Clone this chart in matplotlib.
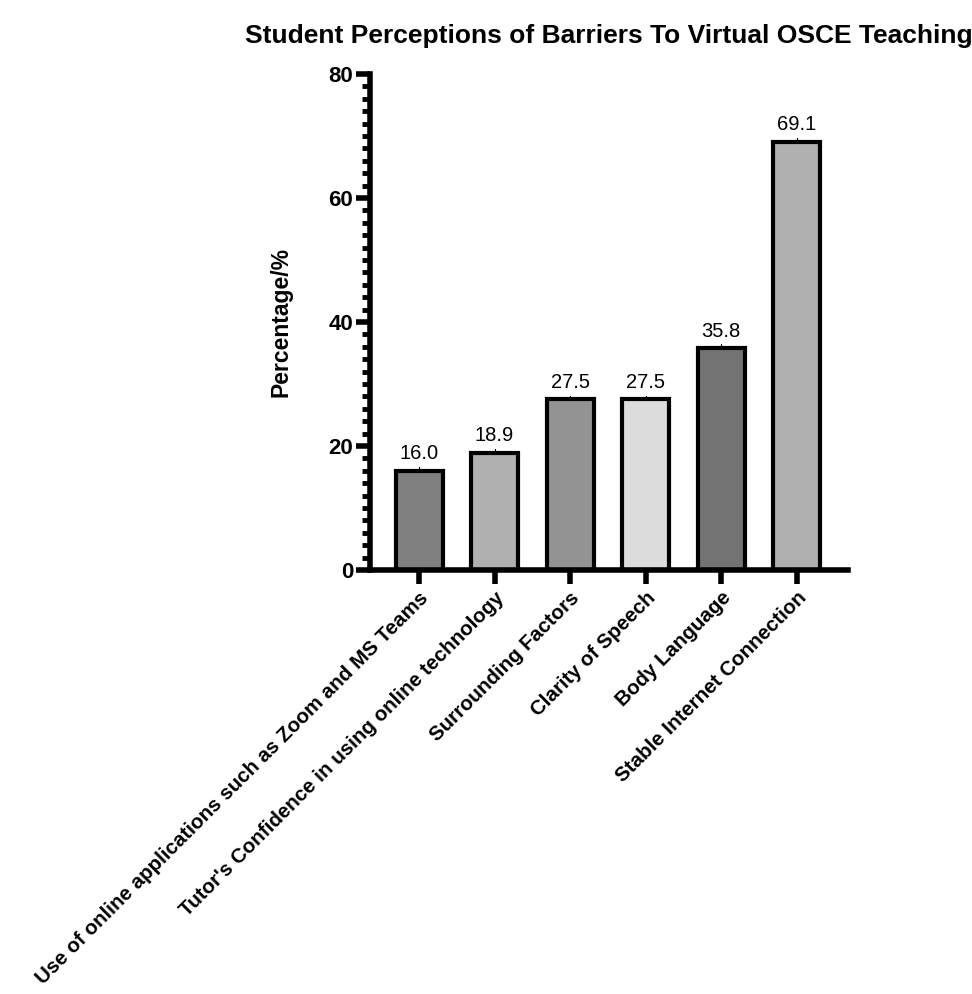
import matplotlib
matplotlib.use("Agg")
import matplotlib.pyplot as plt
from matplotlib.ticker import MultipleLocator

plt.rcParams['font.family'] = ['Liberation Sans', 'DejaVu Sans']

categories = [
    "Use of online applications such as Zoom and MS Teams",
    "Tutor's Confidence in using online technology",
    "Surrounding Factors",
    "Clarity of Speech",
    "Body Language",
    "Stable Internet Connection",
]
values = [16.0, 18.9, 27.5, 27.5, 35.8, 69.1]
colors = ["#808080", "#b0b0b0", "#939393", "#dcdcdc", "#737373", "#b0b0b0"]
title = "Student Perceptions of Barriers To Virtual OSCE Teaching"
ylabel = "Percentage/%"

fig = plt.figure(figsize=(9.72, 9.94), dpi=100)
ax = fig.add_axes([0.3807, 0.4266, 0.4917, 0.499])

x = list(range(len(categories)))
bars = ax.bar(x, values, width=0.62, color=colors, edgecolor="black", linewidth=3, zorder=2)
for xi, v in zip(x, values):
    ax.text(xi, v + 1.2, f"{v:.1f}", ha="center", va="bottom", fontsize=14.5)
    ax.plot([xi, xi], [v, v + 0.6], color="black", lw=0.8)

ax.set_xlim(-0.65, 5.68)
ax.set_ylim(0, 80)
ax.yaxis.set_major_locator(MultipleLocator(20))
ax.yaxis.set_minor_locator(MultipleLocator(2))
for s in ["top", "right"]:
    ax.spines[s].set_visible(False)
for s in ["left", "bottom"]:
    ax.spines[s].set_linewidth(4)
ax.tick_params(axis="y", which="major", length=10, width=4, labelsize=16, pad=2)
ax.tick_params(axis="y", which="minor", length=5.5, width=3.5)
ax.tick_params(axis="x", which="major", length=10, width=4, labelsize=14.8, pad=3)
ax.set_xticks(x)
ax.set_xticklabels(categories, rotation=45, ha="right", rotation_mode="anchor", fontweight="bold")
for lab in ax.get_yticklabels():
    lab.set_fontweight("bold")
ax.set_ylabel(ylabel, fontsize=16.5, fontweight="bold", labelpad=26)
ax.set_title(title, fontsize=19, fontweight="bold", pad=22)

fig.savefig("out.png", dpi=100)
